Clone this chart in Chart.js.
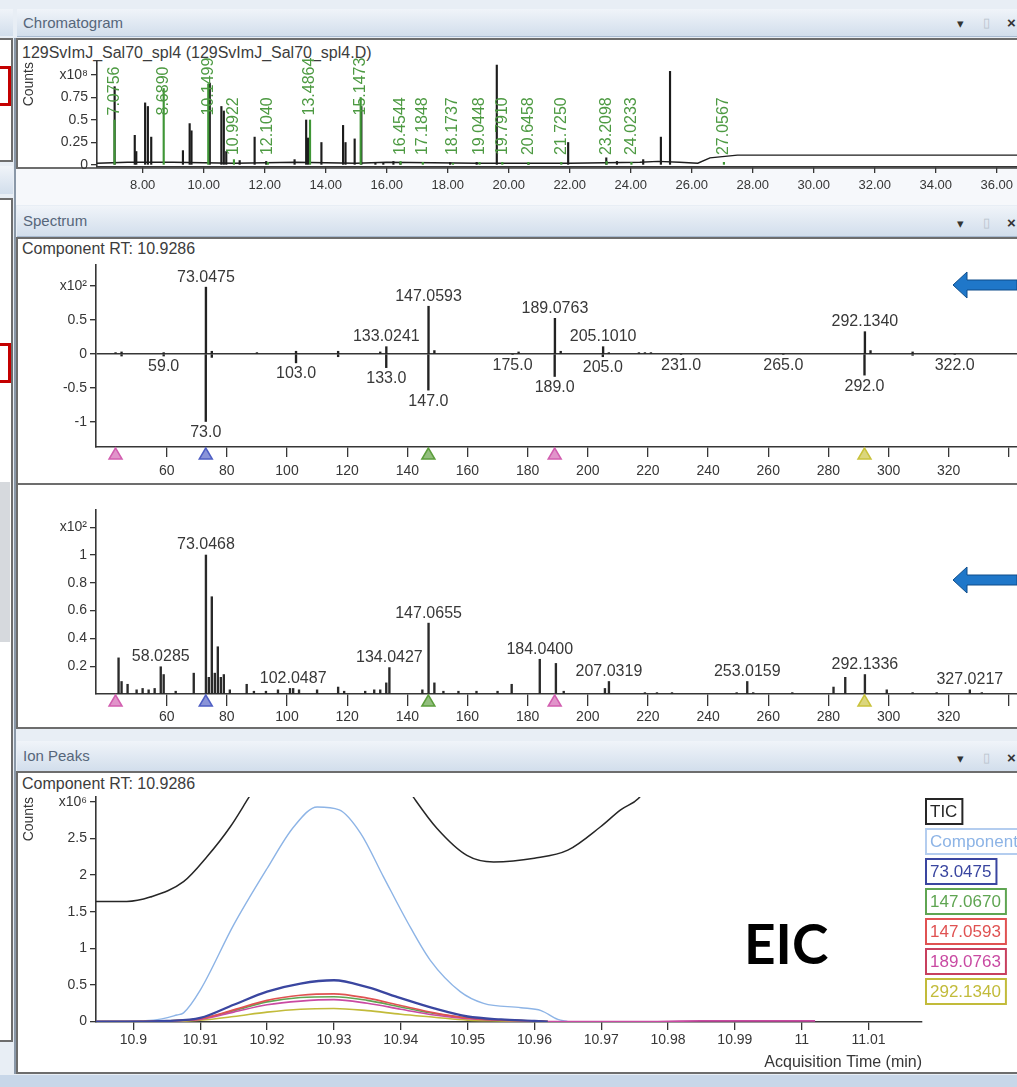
<!DOCTYPE html>
<html>
<head>
<meta charset="utf-8">
<script src="https://cdn.jsdelivr.net/npm/chart.js@4.4.1/dist/chart.umd.min.js"></script>
<style>
html, body { margin: 0; padding: 0; }
body { width: 1017px; height: 1087px; position: relative; overflow: hidden; background: #e8eef5; font-family: "Liberation Sans", Arial, sans-serif; }
.abs { position: absolute; }
.hdr { position: absolute; left: 17px; width: 1000px; background: linear-gradient(#f0f4f9, #d2deec); border-bottom: 1px solid #a8bad0; color: #56667a; font-size: 15px; box-sizing: border-box; padding-left: 6px; }
.hdr .ic { position: absolute; top: 0; font-size: 13px; color: #333; }
.box { position: absolute; left: 16px; width: 1001px; background: #fff; border: 2px solid #6d6d6d; border-right: none; box-sizing: border-box; }
.lbox { position: absolute; left: 0; width: 13px; background: #fff; border: 2px solid #6d6d6d; border-left: none; box-sizing: border-box; }
.red { position: absolute; left: 0; width: 11px; height: 40px; border: 3px solid #c40000; border-left: none; box-sizing: border-box; }
.txt { position: absolute; color: #3c3c3c; font-size: 16px; white-space: nowrap; }
canvas { position: absolute; }
</style>
</head>
<body>
<!-- left docked strip -->
<div class="abs" style="left:0;top:9px;width:13px;height:27px;background:linear-gradient(#f0f4f9,#d2deec)"></div>
<div class="lbox" style="top:38px;height:124px"></div>
<div class="red" style="top:66px"></div>
<div class="abs" style="left:0;top:166px;width:13px;height:28px;background:linear-gradient(#f0f4f9,#d2deec)"></div>
<div class="lbox" style="top:198px;height:844px"></div>
<div class="abs" style="left:0;top:482px;width:10px;height:160px;background:#d6d9dd"></div>
<div class="red" style="top:343px"></div>
<div class="abs" style="left:14px;top:38px;width:2px;height:1036px;background:#8a98a8"></div>

<!-- chromatogram panel -->
<div class="hdr" style="top:9px;height:28px;line-height:27px">Chromatogram
  <span class="ic" style="left:940px;top:1px">&#9662;</span>
  <span class="ic" style="left:966px;top:0;color:#b8c2cc">&#9647;</span>
  <span class="ic" style="left:990px;top:0;font-weight:bold;font-size:15px">&#215;</span>
</div>
<div class="box" style="top:38px;height:131px"></div>
<div class="abs" style="left:16px;top:169px;width:1001px;height:36px;background:#f6f8fb"></div>
<div class="txt" style="left:22px;top:44px">129SvImJ_Sal70_spl4 (129SvImJ_Sal70_spl4.D)</div>

<!-- spectrum panel -->
<div class="hdr" style="top:206px;height:31px;line-height:30px">Spectrum
  <span class="ic" style="left:940px;top:3px">&#9662;</span>
  <span class="ic" style="left:966px;top:2px;color:#b8c2cc">&#9647;</span>
  <span class="ic" style="left:990px;top:2px;font-weight:bold;font-size:15px">&#215;</span>
</div>
<div class="box" style="top:237px;height:248px"></div>
<div class="box" style="top:483px;height:246px"></div>
<div class="txt" style="left:22px;top:240px">Component RT: 10.9286</div>

<!-- ion peaks panel -->
<div class="hdr" style="top:741px;height:31px;line-height:30px">Ion Peaks
  <span class="ic" style="left:940px;top:3px">&#9662;</span>
  <span class="ic" style="left:966px;top:2px;color:#b8c2cc">&#9647;</span>
  <span class="ic" style="left:990px;top:2px;font-weight:bold;font-size:15px">&#215;</span>
</div>
<div class="box" style="top:771px;height:303px"></div>
<div class="txt" style="left:22px;top:775px">Component RT: 10.9286</div>
<div class="abs" style="left:0;top:1075px;width:1017px;height:12px;background:#c8d7e9"></div>

<canvas id="chrom" width="1000" height="162" style="left:17px;top:38px"></canvas>
<canvas id="spec1" width="1000" height="244" style="left:17px;top:238px"></canvas>
<canvas id="spec2" width="1000" height="244" style="left:17px;top:484px"></canvas>
<canvas id="ions" width="1000" height="300" style="left:17px;top:772px"></canvas>

<div class="abs" style="left:744px;top:916px;font:bold 55px Lato, sans-serif;line-height:55px;color:#000">EIC</div>

<svg class="abs" style="left:950px;top:270px" width="67" height="30"><path d="M3 15 L17 2 L17 10 L67 10 L67 20 L17 20 L17 28 Z" fill="#1f77c9" stroke="#0f4d8a" stroke-width="1"/></svg>
<svg class="abs" style="left:950px;top:565px" width="67" height="30"><path d="M3 15 L17 2 L17 10 L67 10 L67 20 L17 20 L17 28 Z" fill="#1f77c9" stroke="#0f4d8a" stroke-width="1"/></svg>

<script>
const FONT = '"Liberation Sans", Arial, sans-serif';
const INK = '#363636';

// ---------- chromatogram (TIC, x10^8 counts) ----------
const chromTicks = [8, 10, 12, 14, 16, 18, 20, 22, 24, 26, 28, 30, 32, 34, 36];
const chromYTicks = [0, 0.25, 0.5, 0.75, 1];
const peakRT = [7.08, 7.74, 7.79, 8.08, 8.17, 8.28, 9.32, 9.54, 9.6, 10.2, 10.58, 10.66, 10.74, 11.18, 11.67, 12.05, 12.98,
  13.36, 13.42, 13.86, 14.57, 14.65, 14.95, 15.17, 15.63, 15.89, 16.22, 16.45, 18.08, 18.95, 19.61, 20.65, 21.95,
  23.2, 23.55, 24.41, 24.99, 25.29];
const peakHeight = [0.87, 0.33, 0.15, 0.69, 0.65, 0.31, 0.16, 0.46, 0.38, 0.91, 0.65, 0.6, 0.15, 0.05, 0.31, 0.04, 0.06,
  0.5, 0.3, 0.25, 0.44, 0.25, 0.29, 0.65, 0.03, 0.03, 0.04, 0.03, 0.03, 0.03, 1.11, 0.02, 0.25,
  0.08, 0.04, 0.06, 0.31, 1.04];
const compRT = [7.0756, 8.6890, 10.1499, 10.9922, 12.1040, 13.4864, 15.1473, 16.4544, 17.1848, 18.1737, 19.0448,
  19.7910, 20.6458, 21.7250, 23.2098, 24.0233, 27.0567];
const compHeight = [0.5, 0.85, 0.9, 0.06, 0.03, 0.5, 0.75, 0.04, 0.03, 0.02, 0.03, 0.03, 0.03, 0.03, 0.04, 0.03, 0.03];
const baseRT = [6.5, 7.5, 9, 11, 13, 15, 16, 19, 22, 24.3, 24.9, 25.6, 26.2, 26.6, 27.5, 36.7];
const baseLevel = [0.02, 0.03, 0.03, 0.02, 0.03, 0.02, 0.03, 0.02, 0.02, 0.03, 0.04, 0.03, 0.02, 0.08, 0.11, 0.11];

// ---------- spectrum: component (up) vs library (down), x10^2 ----------
const specTicks = [60, 80, 100, 120, 140, 160, 180, 200, 220, 240, 260, 280, 300, 320, 340];
const spec1YTicks = [-1, -0.5, 0, 0.5, 1];
const compMz = [43, 45, 59, 73.0475, 75, 90, 103, 117, 131, 133.0241, 147.0593, 149, 177, 189.0763, 191, 205.1010,
  207, 217, 219, 221, 292.1340, 294, 308];
const compInt = [0.02, 0.03, 0.02, 0.98, 0.04, 0.02, 0.04, 0.04, 0.03, 0.107, 0.70, 0.05, 0.03, 0.523, 0.04, 0.107,
  0.02, 0.02, 0.02, 0.02, 0.327, 0.05, 0.03];
const compLabels = ['73.0475', '133.0241', '147.0593', '189.0763', '205.1010', '292.1340'];
const libMz = [45, 59, 73, 75, 103, 117, 133, 147, 175, 189, 205, 231, 265, 292, 308, 322];
const libInt = [-0.03, -0.03, -0.99, -0.05, -0.13, -0.04, -0.2, -0.53, -0.01, -0.33, -0.04, -0.01, -0.01, -0.31, -0.02, -0.01];
const libLabels = ['59.0', '73.0', '103.0', '133.0', '147.0', '175.0', '189.0', '205.0', '231.0', '265.0', '292.0', '322.0'];

// ---------- raw scan spectrum, x10^2 ----------
const spec2YTicks = [0.2, 0.4, 0.6, 0.8, 1, 1.2];
const scanMz = [44, 45, 47, 50, 52, 54, 56, 58.0285, 59, 63, 69, 73.0468, 74, 75, 76, 77, 78, 79, 81, 86.6, 89, 93, 97,
  101, 102.0487, 104, 110, 117, 119, 126, 129, 131, 133, 134.0427, 145, 147.0655, 149, 152, 157, 163, 170, 174.7,
  184.0400, 189.4, 192, 205.7, 207.0319, 219, 223, 228, 249.5, 253.0159, 255, 268, 281.7, 285.6, 292.1336, 299.4,
  308, 316, 327.0217, 331];
const scanInt = [0.26, 0.09, 0.07, 0.03, 0.04, 0.03, 0.04, 0.196, 0.14, 0.02, 0.15, 1.0, 0.12, 0.70, 0.15, 0.34, 0.12, 0.14,
  0.03, 0.07, 0.02, 0.02, 0.03, 0.04, 0.04, 0.03, 0.03, 0.05, 0.02, 0.02, 0.03, 0.03, 0.08, 0.19, 0.03, 0.51,
  0.08, 0.02, 0.02, 0.02, 0.02, 0.07, 0.25, 0.22, 0.02, 0.04, 0.09, 0.01, 0.01, 0.01, 0.01, 0.09, 0.01, 0.01,
  0.05, 0.12, 0.14, 0.03, 0.01, 0.01, 0.03, 0.01];
const scanLabels = ['58.0285', '73.0468', '102.0487', '134.0427', '147.0655', '184.0400', '207.0319', '253.0159',
  '292.1336', '327.0217'];

// selected ions marked under the m/z axis
const markerMz = [43, 73, 147, 189, 292];
const markerColors = ['#d25fb0', '#4f5fc4', '#5c9e3c', '#d25fb0', '#c9c23c'];

// ---------- ion peaks (x10^6 counts) ----------
const ionTicks = [10.9, 10.91, 10.92, 10.93, 10.94, 10.95, 10.96, 10.97, 10.98, 10.99, 11, 11.01];
const ionYTicks = [0, 0.5, 1, 1.5, 2, 2.5, 3];
const ticTime = [10.8944, 10.899, 10.9025, 10.9075, 10.911, 10.9145, 10.9172, 10.921, 10.93, 10.938, 10.942, 10.9454,
  10.9499, 10.9539, 10.96, 10.965, 10.9699, 10.9729, 10.9756, 10.979];
const ticCounts = [1.64, 1.64, 1.70, 1.91, 2.25, 2.66, 3.05, 3.6, 4.1, 3.6, 3.05, 2.64, 2.27, 2.18, 2.23, 2.34, 2.66,
  2.89, 3.05, 3.5];
const compTime = [10.8944, 10.903, 10.9065, 10.9075, 10.910, 10.915, 10.920, 10.924, 10.9275, 10.9308, 10.934, 10.9374,
  10.941, 10.9444, 10.9489, 10.9524, 10.958, 10.961, 10.9635, 10.965];
const compCounts = [0, 0.02, 0.09, 0.12, 0.43, 1.32, 2.09, 2.66, 2.93, 2.89, 2.57, 1.98, 1.36, 0.84, 0.41, 0.25, 0.19,
  0.15, 0.03, 0];
const eicTime = [10.8944, 10.9, 10.905, 10.91, 10.915, 10.92, 10.925, 10.93, 10.935, 10.94, 10.945, 10.95, 10.955,
  10.96, 10.962, 10.975, 10.985, 11.002];
const eic73 = [0, 0, 0.01, 0.05, 0.23, 0.41, 0.52, 0.565, 0.47, 0.32, 0.18, 0.07, 0.03, 0.01, 0, null, null, null];
const eic147a = [0, 0, 0.01, 0.04, 0.15, 0.27, 0.33, 0.34, 0.29, 0.2, 0.11, 0.05, 0.02, 0.01, 0, null, null, null];
const eic147b = [0, 0, 0.01, 0.04, 0.16, 0.29, 0.36, 0.38, 0.32, 0.22, 0.12, 0.05, 0.02, 0.01, 0, null, null, null];
const eic189 = [0, 0, 0.01, 0.03, 0.13, 0.23, 0.28, 0.30, 0.25, 0.17, 0.09, 0.04, 0.02, 0.01, 0, 0, 0.01, 0.01];
const eic292 = [0, 0, 0, 0.02, 0.07, 0.13, 0.17, 0.18, 0.15, 0.10, 0.06, 0.02, 0.01, 0, 0, null, null, null];

const pts = (xs, ys) => xs.map((x, i) => ({ x: x, y: ys[i] }));
const fixTicks = arr => s => { s.ticks = arr.map(v => ({ value: v })); };
const tickFont = size => ({ family: FONT, size: size });

// vertical green retention time labels
const rtLabels = {
  id: 'rtLabels',
  afterDatasetsDraw(chart, args, o) {
    const { ctx } = chart, xs = chart.scales.x, ys = chart.scales.y;
    ctx.save();
    ctx.font = '16px ' + FONT;
    ctx.fillStyle = '#4d9a42';
    ctx.textAlign = 'left';
    ctx.textBaseline = 'middle';
    o.rt.forEach((t, i) => {
      const px = xs.getPixelForValue(t);
      const py = ys.getPixelForValue(o.h[i] > 0.3 ? 0.55 : 0.11);
      ctx.save();
      ctx.translate(px, py);
      ctx.rotate(-Math.PI / 2);
      ctx.fillText(t.toFixed(4), 0, 0);
      ctx.restore();
    });
    ctx.restore();
  }
};

// m/z labels above / below sticks
const peakLabels = {
  id: 'peakLabels',
  afterDatasetsDraw(chart, args, o) {
    const { ctx } = chart, xs = chart.scales.x, ys = chart.scales.y;
    ctx.save();
    ctx.font = '16px ' + FONT;
    ctx.fillStyle = '#383838';
    ctx.textAlign = 'center';
    o.sets.forEach(set => {
      set.labels.forEach(lbl => {
        const m = parseFloat(lbl);
        let best = 0;
        set.mz.forEach((v, i) => { if (Math.abs(v - m) < Math.abs(set.mz[best] - m)) best = i; });
        const px = xs.getPixelForValue(set.mz[best]);
        const py = ys.getPixelForValue(set.val[best]);
        if (set.val[best] >= 0) { ctx.textBaseline = 'bottom'; ctx.fillText(lbl, px, py - 2); }
        else { ctx.textBaseline = 'top'; ctx.fillText(lbl, px, py + 3); }
      });
    });
    ctx.restore();
  }
};

// triangles marking the extracted ions
const ionMarkers = {
  id: 'ionMarkers',
  afterDraw(chart, args, o) {
    const { ctx, chartArea } = chart, xs = chart.scales.x;
    ctx.save();
    o.mz.forEach((m, i) => {
      const px = xs.getPixelForValue(m), top = chartArea.bottom + 1;
      ctx.beginPath();
      ctx.moveTo(px, top);
      ctx.lineTo(px - 6.5, top + 11);
      ctx.lineTo(px + 6.5, top + 11);
      ctx.closePath();
      ctx.fillStyle = o.colors[i] + 'aa';
      ctx.strokeStyle = o.colors[i];
      ctx.lineWidth = 1.5;
      ctx.fill();
      ctx.stroke();
    });
    ctx.restore();
  }
};

// boxed legend on the right of the ion peaks
const boxLegend = {
  id: 'boxLegend',
  afterDraw(chart) {
    const { ctx, chartArea } = chart;
    ctx.save();
    ctx.font = '17px ' + FONT;
    ctx.textAlign = 'left';
    ctx.textBaseline = 'middle';
    chart.data.datasets.forEach((ds, i) => {
      const x = chartArea.right + 4, y = chartArea.top + 2 + i * 30;
      const w = ctx.measureText(ds.label).width + 9;
      ctx.fillStyle = '#fff';
      ctx.fillRect(x, y, w, 25);
      ctx.strokeStyle = ds.boxColor || ds.borderColor;
      ctx.lineWidth = 2;
      ctx.strokeRect(x, y, w, 25);
      ctx.fillStyle = ds.borderColor;
      ctx.fillText(ds.label, x + 4, y + 13.5);
    });
    ctx.restore();
  }
};

const common = {
  responsive: false,
  animation: false,
  devicePixelRatio: 1,
  events: []
};

function xAxis(min, max, ticks, fmt, h, tickLen, pad, size) {
  return {
    type: 'linear', min: min, max: max, offset: false,
    afterBuildTicks: fixTicks(ticks),
    afterFit: s => { s.height = h; s.paddingLeft = 0; s.paddingRight = 0; },
    ticks: { callback: fmt, font: tickFont(size), color: INK, padding: pad, maxRotation: 0, minRotation: 0, autoSkip: false },
    grid: { drawOnChartArea: false, tickLength: tickLen, color: INK, lineWidth: 1.3, offset: false },
    border: { color: INK, width: 1.6 }
  };
}

function yAxis(min, max, ticks, fmt, w, extra) {
  return Object.assign({
    type: 'linear', min: min, max: max,
    afterBuildTicks: fixTicks(ticks),
    afterFit: s => { s.width = w; s.paddingTop = 0; s.paddingBottom = 0; },
    ticks: { callback: fmt, font: tickFont(14), color: INK, padding: 3, autoSkip: false },
    grid: { drawOnChartArea: false, tickLength: 6, color: INK, lineWidth: 1.3 },
    border: { color: INK, width: 1.6 }
  }, extra || {});
}

// chromatogram
new Chart(document.getElementById('chrom'), {
  type: 'bar',
  data: {
    datasets: [
      { type: 'bar', data: pts(compRT, compHeight), backgroundColor: '#3f9636', barThickness: 1.5, grouped: false, order: 0 },
      { type: 'bar', data: pts(peakRT, peakHeight), backgroundColor: '#1c1c1c', barThickness: 1.5, grouped: false, order: 1 },
      { type: 'line', data: pts(baseRT, baseLevel), borderColor: '#1c1c1c', borderWidth: 1.4, pointRadius: 0, order: 2 }
    ]
  },
  options: Object.assign({}, common, {
    layout: { autoPadding: false, padding: { top: 24, left: 0, right: 0, bottom: 0 } },
    plugins: { legend: { display: false }, tooltip: { enabled: false }, rtLabels: { rt: compRT, h: compHeight } },
    scales: {
      x: xAxis(6.502, 36.666, chromTicks, v => v.toFixed(2), 33, 6, 5, 13),
      y: yAxis(-0.022, 1.144, chromYTicks, v => v === 1 ? 'x10\u2078' : String(v), 80, {
        title: { display: true, text: 'Counts', align: 'end', color: INK, font: { family: FONT, size: 14 }, padding: { top: 4, bottom: 0 } }
      })
    }
  }),
  plugins: [rtLabels]
});

// component vs library mirror spectrum
new Chart(document.getElementById('spec1'), {
  type: 'bar',
  data: {
    datasets: [
      { data: pts(compMz, compInt), backgroundColor: '#222', barThickness: 1.7, grouped: false },
      { data: pts(libMz, libInt), backgroundColor: '#222', barThickness: 1.7, grouped: false }
    ]
  },
  options: Object.assign({}, common, {
    layout: { autoPadding: false, padding: { top: 27, left: 0, right: 0, bottom: 0 } },
    plugins: {
      legend: { display: false }, tooltip: { enabled: false },
      peakLabels: { sets: [{ mz: compMz, val: compInt, labels: compLabels }, { mz: libMz, val: libInt, labels: libLabels }] },
      ionMarkers: { mz: markerMz, colors: markerColors }
    },
    scales: {
      x: xAxis(36.5, 342.7, specTicks, v => v === 340 ? '' : String(v), 35, 10, 6, 14),
      y: yAxis(-1.364, 1.305, spec1YTicks, v => v === 1 ? 'x10\u00b2' : String(v), 79, {
        grid: {
          drawOnChartArea: true, tickLength: 6, lineWidth: 1.4, tickColor: INK,
          color: c => (c.tick && c.tick.value === 0) ? INK : 'rgba(0,0,0,0)'
        }
      })
    }
  }),
  plugins: [peakLabels, ionMarkers]
});

// raw scan spectrum
new Chart(document.getElementById('spec2'), {
  type: 'bar',
  data: {
    datasets: [
      { data: pts(scanMz, scanInt), backgroundColor: '#2a2a2a', barThickness: 1.7, grouped: false }
    ]
  },
  options: Object.assign({}, common, {
    layout: { autoPadding: false, padding: { top: 26, left: 0, right: 0, bottom: 0 } },
    plugins: {
      legend: { display: false }, tooltip: { enabled: false },
      peakLabels: { sets: [{ mz: scanMz, val: scanInt, labels: scanLabels }] },
      ionMarkers: { mz: markerMz, colors: markerColors }
    },
    scales: {
      x: xAxis(36.5, 342.7, specTicks, v => v === 340 ? '' : String(v), 34, 12, 3, 14),
      y: yAxis(0, 1.324, spec2YTicks, v => v === 1.2 ? 'x10\u00b2' : String(v), 79)
    }
  }),
  plugins: [peakLabels, ionMarkers]
});

// ion peaks / EIC
const line = (label, xs, ys, color, width, extra) => Object.assign({
  label: label, data: pts(xs, ys), borderColor: color, borderWidth: width,
  pointRadius: 0, cubicInterpolationMode: 'monotone', spanGaps: false
}, extra || {});

new Chart(document.getElementById('ions'), {
  type: 'line',
  data: {
    datasets: [
      line('TIC', ticTime, ticCounts, '#262626', 1.5, { order: 6 }),
      line('Component', compTime, compCounts, '#8db4e6', 1.4, { order: 5, boxColor: '#b4cdef' }),
      line('73.0475', eicTime, eic73, '#3a46a0', 2.3, { order: 0 }),
      line('147.0670', eicTime, eic147a, '#5fa552', 1.6, { order: 3 }),
      line('147.0593', eicTime, eic147b, '#e05252', 1.7, { order: 1 }),
      line('189.0763', eicTime, eic189, '#c94aa2', 1.6, { order: 2, boxColor: '#c8405e' }),
      line('292.1340', eicTime, eic292, '#c2bb3a', 1.6, { order: 4 })
    ]
  },
  options: Object.assign({}, common, {
    layout: { autoPadding: false, padding: { top: 25, left: 0, right: 95, bottom: 0 } },
    plugins: { legend: { display: false }, tooltip: { enabled: false } },
    scales: {
      x: Object.assign(xAxis(10.8944, 11.018, ionTicks, v => String(Number(v.toFixed(2))), 50, 8, 2, 14), {
        title: { display: true, text: 'Acquisition Time (min)', align: 'end', color: INK, font: { family: FONT, size: 16 }, padding: { top: 0, bottom: 0 } }
      }),
      y: yAxis(-0.005, 3.066, ionYTicks, v => v === 3 ? 'x10\u2076' : String(v), 79, {
        title: { display: true, text: 'Counts', align: 'end', color: INK, font: { family: FONT, size: 14 }, padding: { top: 4, bottom: 0 } }
      })
    }
  }),
  plugins: [boxLegend]
});
</script>
</body>
</html>
